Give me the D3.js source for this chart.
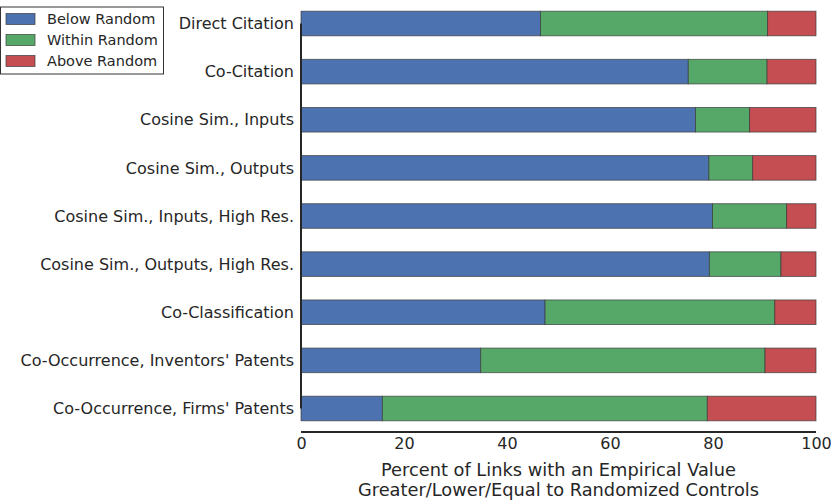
<!DOCTYPE html>
<html>
<head>
<meta charset="utf-8">
<script src="https://cdn.jsdelivr.net/npm/d3@7"></script>
<style>
  body { margin: 0; background: #fff; }
  text { font-family: "DejaVu Sans", sans-serif; fill: #262626; }
</style>
</head>
<body>
<div id="chart"></div>
<script>
// data (percent)
var categories = [
    "Direct Citation",
    "Co-Citation",
    "Cosine Sim., Inputs",
    "Cosine Sim., Outputs",
    "Cosine Sim., Inputs, High Res.",
    "Cosine Sim., Outputs, High Res.",
    "Co-Classification",
    "Co-Occurrence, Inventors' Patents",
    "Co-Occurrence, Firms' Patents"
];
var belowRandom  = [46.5, 75.2, 76.6, 79.2, 79.9, 79.3, 47.4, 34.9, 15.8];
var withinRandom = [44.1, 15.3, 10.5,  8.5, 14.4, 13.9, 44.6, 55.2, 63.1];
var aboveRandom  = [ 9.4,  9.5, 12.9, 12.3,  5.7,  6.8,  8.0,  9.9, 21.1];
var seriesNames = ["Below Random", "Within Random", "Above Random"];
var seriesColors = ["#4C72B0", "#55A868", "#C44E52"];
var xTicks = [0, 20, 40, 60, 80, 100];

var width = 831, height = 500;
var plotLeft = 301, plotRight = 816;
var firstBar = 23.5, lastBar = 408.5;
var barHeight = 24.6;
var axisY = 432;

var svg = d3.select("#chart").append("svg")
    .attr("width", width)
    .attr("height", height);

var x = d3.scaleLinear().domain([0, 100]).range([plotLeft, plotRight]);
var y = d3.scalePoint().domain(categories).range([firstBar, lastBar]);

// build stacked rows
var rows = categories.map(function (c, i) {
    return { cat: c, "Below Random": belowRandom[i], "Within Random": withinRandom[i], "Above Random": aboveRandom[i] };
});
var stack = d3.stack().keys(seriesNames)(rows);

// bars
var barsContainer = svg.append("g");
stack.forEach(function (layer, k) {
    barsContainer.append("g").selectAll("rect").data(layer).enter().append("rect")
        .attr("x", function (d) { return x(d[0]); })
        .attr("y", function (d) { return y(d.data.cat) - barHeight / 2; })
        .attr("width", function (d) { return x(d[1]) - x(d[0]); })
        .attr("height", barHeight)
        .attr("fill", seriesColors[k])
        .attr("stroke", "#3a3a3a")
        .attr("stroke-opacity", 0.75)
        .attr("stroke-width", 0.9);
});

// y axis (trimmed spine)
var yAxis = svg.append("g")
    .attr("transform", "translate(" + plotLeft + ",0)")
    .call(d3.axisLeft(y).tickSize(0).tickPadding(7));
yAxis.select(".domain").remove();
yAxis.selectAll("text").style("font-size", "16px").attr("fill", "#262626");
svg.append("line")
    .attr("x1", plotLeft).attr("x2", plotLeft)
    .attr("y1", y(categories[0])).attr("y2", y(categories[categories.length - 1]))
    .attr("stroke", "#262626").attr("stroke-width", 2);

// x axis
var xAxis = svg.append("g")
    .attr("transform", "translate(0," + axisY + ")")
    .call(d3.axisBottom(x).tickValues(xTicks).tickSize(0).tickPadding(6));
xAxis.select(".domain").remove();
xAxis.selectAll("text").style("font-size", "16px").attr("fill", "#262626");
svg.append("line")
    .attr("x1", plotLeft).attr("x2", plotRight)
    .attr("y1", axisY).attr("y2", axisY)
    .attr("stroke", "#262626").attr("stroke-width", 2);

// x axis title
var titleX = (plotLeft + plotRight) / 2;
svg.append("text")
    .attr("x", titleX).attr("y", 476)
    .attr("text-anchor", "middle")
    .style("font-size", "17.8px")
    .text("Percent of Links with an Empirical Value");
svg.append("text")
    .attr("x", titleX).attr("y", 496)
    .attr("text-anchor", "middle")
    .style("font-size", "17.8px")
    .text("Greater/Lower/Equal to Randomized Controls");

// legend
var legend = svg.append("g");
legend.append("rect")
    .attr("x", 0.5).attr("y", 7)
    .attr("width", 163).attr("height", 67)
    .attr("fill", "#fff")
    .attr("stroke", "#333").attr("stroke-width", 1);
var legendRows = legend.selectAll("g.item").data(seriesNames).enter().append("g")
    .attr("class", "item")
    .attr("transform", function (d, i) { return "translate(0," + (19 + i * 21) + ")"; });
legendRows.append("rect")
    .attr("x", 6).attr("y", -5.5)
    .attr("width", 29).attr("height", 11)
    .attr("fill", function (d, i) { return seriesColors[i]; })
    .attr("stroke", "#3a3a3a").attr("stroke-opacity", 0.75).attr("stroke-width", 0.9);
legendRows.append("text")
    .attr("x", 47).attr("y", 0)
    .attr("dy", "0.35em")
    .style("font-size", "14.5px")
    .text(function (d) { return d; });
</script>
</body>
</html>
